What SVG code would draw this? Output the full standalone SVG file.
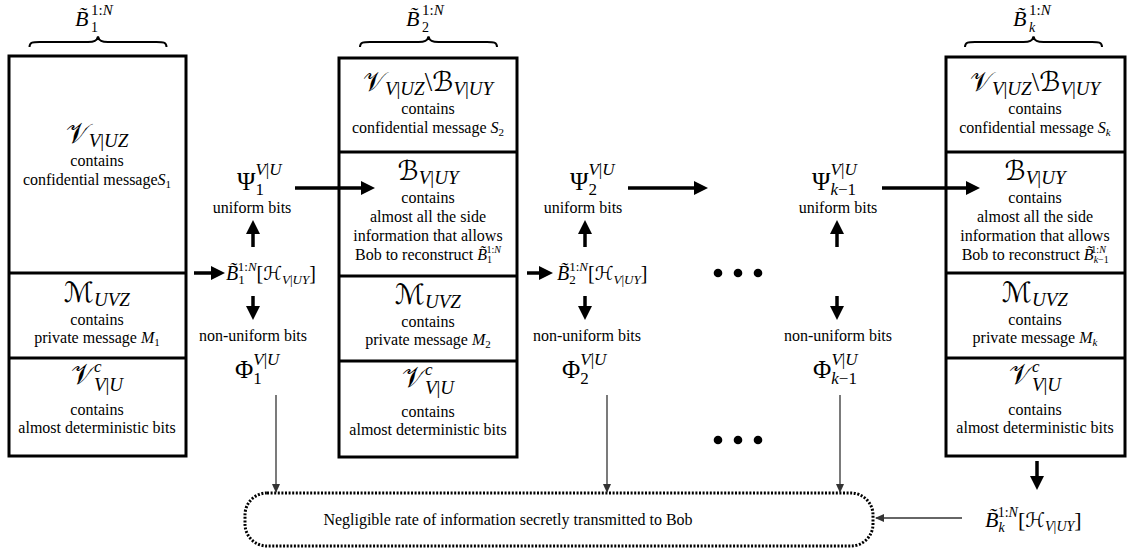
<svg xmlns="http://www.w3.org/2000/svg" width="1131" height="552" viewBox="0 0 1131 552">
<style>
  text { font-family: "Liberation Serif", "DejaVu Serif", serif; fill: #000; }
  .c { text-anchor: middle; }
  .s { font-size: 16px; }
  .it { font-style: italic; }
  .cal { font-family: "DejaVu Serif", "DejaVu Sans", "Noto Sans", serif; font-style: normal; }
  .box { fill: #fff; stroke: #000; stroke-width: 3; }
  .div { stroke: #000; stroke-width: 3; }
  .brace { fill: none; stroke: #000; stroke-width: 2; }
  .thick { stroke: #000; stroke-width: 3.5; marker-end: url(#hd); }
  .thin { stroke: #333; stroke-width: 1.3; marker-end: url(#ah); }
</style>
<defs>
  <marker id="hd" markerUnits="userSpaceOnUse" markerWidth="14" markerHeight="14" refX="8" refY="7" orient="auto">
    <path d="M0,0 L14,7 L0,14 z" fill="#000"/>
  </marker>
  <marker id="ah" markerUnits="userSpaceOnUse" markerWidth="9" markerHeight="8" refX="8" refY="4" orient="auto">
    <path d="M0,0 L9,4 L0,8 z" fill="#333"/>
  </marker>
</defs>

<!-- block 1 -->
<g id="block1">
  <path class="brace" d="M29.5,47 C29.5,42 33,42 39.5,42 L88,42 C94,42 97,41 98,36.5 C99,41 102,42 108,42 L156.5,42 C163,42 166.5,42 166.5,47"/>
  <text x="75" y="26" class="it" font-size="22">B̃<tspan x="91" y="32" font-size="14" font-style="normal">1</tspan><tspan x="91" y="15" font-size="15" font-style="normal">1:<tspan class="it">N</tspan></tspan></text>
  <rect class="box" x="9" y="56" width="177" height="400"/>
  <line class="div" x1="9" y1="273" x2="186" y2="273"/>
  <line class="div" x1="9" y1="358" x2="186" y2="358"/>
  <text x="97" y="143" class="c" font-size="28"><tspan class="cal">𝒱</tspan><tspan class="it" font-size="19" dy="4">V</tspan><tspan font-size="19">|</tspan><tspan class="it" font-size="19">UZ</tspan></text>
  <text x="97" y="166" class="c s">contains</text>
  <text x="97" y="185" class="c s">confidential message<tspan class="it">S</tspan><tspan font-size="11" dy="3">1</tspan></text>
  <text x="97" y="302" class="c" font-size="28"><tspan class="cal">ℳ</tspan><tspan class="it" font-size="19" dy="4">UVZ</tspan></text>
  <text x="97" y="325" class="c s">contains</text>
  <text x="97" y="343" class="c s">private message <tspan class="it">M</tspan><tspan font-size="11" dy="3">1</tspan></text>
  <text x="97" y="384" class="c" font-size="28"><tspan class="cal">𝒱</tspan><tspan class="it" font-size="17" dy="-12">c</tspan><tspan class="it" font-size="19" dx="-7.5" dy="19">V</tspan><tspan font-size="19">|</tspan><tspan class="it" font-size="19">U</tspan></text>
  <text x="97" y="415" class="c s">contains</text>
  <text x="97" y="433" class="c s">almost deterministic bits</text>
</g>

<!-- block 2 -->
<g id="block2">
  <path class="brace" d="M360,47 C360,42 363.5,42 370,42 L418.5,42 C424.5,42 427.5,41 428.5,36.5 C429.5,41 432.5,42 438.5,42 L487,42 C493.5,42 497,42 497,47"/>
  <text x="406" y="26" class="it" font-size="22">B̃<tspan x="422" y="32" font-size="14" font-style="normal">2</tspan><tspan x="422" y="15" font-size="15" font-style="normal">1:<tspan class="it">N</tspan></tspan></text>
  <rect class="box" x="339" y="58" width="178" height="399"/>
  <line class="div" x1="339" y1="152" x2="517" y2="152"/>
  <line class="div" x1="339" y1="276" x2="517" y2="276"/>
  <line class="div" x1="339" y1="361" x2="517" y2="361"/>
  <text x="428" y="91" class="c" font-size="27"><tspan class="cal">𝒱</tspan><tspan class="it" font-size="19" dy="4">V</tspan><tspan font-size="19">|</tspan><tspan class="it" font-size="19">UZ</tspan><tspan dy="-4">\</tspan><tspan class="cal">ℬ</tspan><tspan class="it" font-size="19" dy="4">V</tspan><tspan font-size="19">|</tspan><tspan class="it" font-size="19">UY</tspan></text>
  <text x="428" y="114" class="c s">contains</text>
  <text x="428" y="133" class="c s">confidential message <tspan class="it">S</tspan><tspan font-size="11" dy="3">2</tspan></text>
  <text x="428" y="180" class="c" font-size="27"><tspan class="cal">ℬ</tspan><tspan class="it" font-size="19" dy="4">V</tspan><tspan font-size="19">|</tspan><tspan class="it" font-size="19">UY</tspan></text>
  <text x="428" y="203" class="c s">contains</text>
  <text x="428" y="222" class="c s">almost all the side</text>
  <text x="428" y="241" class="c s">information that allows</text>
  <text x="428" y="260" class="c s">Bob to reconstruct <tspan class="it">B̃</tspan><tspan font-size="10" dy="3">1</tspan><tspan font-size="10" dx="-5" dy="-10">1:<tspan class="it">N</tspan></tspan></text>
  <text x="428" y="304" class="c" font-size="28"><tspan class="cal">ℳ</tspan><tspan class="it" font-size="19" dy="4">UVZ</tspan></text>
  <text x="428" y="327" class="c s">contains</text>
  <text x="428" y="345" class="c s">private message <tspan class="it">M</tspan><tspan font-size="11" dy="3">2</tspan></text>
  <text x="428" y="387" class="c" font-size="28"><tspan class="cal">𝒱</tspan><tspan class="it" font-size="17" dy="-12">c</tspan><tspan class="it" font-size="19" dx="-7.5" dy="19">V</tspan><tspan font-size="19">|</tspan><tspan class="it" font-size="19">U</tspan></text>
  <text x="428" y="417" class="c s">contains</text>
  <text x="428" y="435" class="c s">almost deterministic bits</text>
</g>

<!-- block k -->
<g id="blockk">
  <path class="brace" d="M965,47 C965,42 968.5,42 975,42 L1023.5,42 C1029.5,42 1032.5,41 1033.5,36.5 C1034.5,41 1037.5,42 1043.5,42 L1092,42 C1098.5,42 1102,42 1102,47"/>
  <text x="1013" y="26" class="it" font-size="22">B̃<tspan x="1029" y="32" font-size="14">k</tspan><tspan x="1029" y="15" font-size="15" font-style="normal">1:<tspan class="it">N</tspan></tspan></text>
  <rect class="box" x="946" y="57" width="179" height="399"/>
  <line class="div" x1="946" y1="152" x2="1125" y2="152"/>
  <line class="div" x1="946" y1="273" x2="1125" y2="273"/>
  <line class="div" x1="946" y1="358" x2="1125" y2="358"/>
  <text x="1035" y="91" class="c" font-size="27"><tspan class="cal">𝒱</tspan><tspan class="it" font-size="19" dy="4">V</tspan><tspan font-size="19">|</tspan><tspan class="it" font-size="19">UZ</tspan><tspan dy="-4">\</tspan><tspan class="cal">ℬ</tspan><tspan class="it" font-size="19" dy="4">V</tspan><tspan font-size="19">|</tspan><tspan class="it" font-size="19">UY</tspan></text>
  <text x="1035" y="114" class="c s">contains</text>
  <text x="1035" y="133" class="c s">confidential message <tspan class="it">S</tspan><tspan class="it" font-size="11" dy="3">k</tspan></text>
  <text x="1035" y="180" class="c" font-size="27"><tspan class="cal">ℬ</tspan><tspan class="it" font-size="19" dy="4">V</tspan><tspan font-size="19">|</tspan><tspan class="it" font-size="19">UY</tspan></text>
  <text x="1035" y="203" class="c s">contains</text>
  <text x="1035" y="222" class="c s">almost all the side</text>
  <text x="1035" y="241" class="c s">information that allows</text>
  <text x="1035" y="260" class="c s">Bob to reconstruct <tspan class="it">B̃</tspan><tspan font-size="10" dy="3"><tspan class="it">k</tspan>−1</tspan><tspan font-size="10" dx="-17" dy="-10">1:<tspan class="it">N</tspan></tspan></text>
  <text x="1035" y="302" class="c" font-size="28"><tspan class="cal">ℳ</tspan><tspan class="it" font-size="19" dy="4">UVZ</tspan></text>
  <text x="1035" y="325" class="c s">contains</text>
  <text x="1035" y="343" class="c s">private message <tspan class="it">M</tspan><tspan class="it" font-size="11" dy="3">k</tspan></text>
  <text x="1035" y="384" class="c" font-size="28"><tspan class="cal">𝒱</tspan><tspan class="it" font-size="17" dy="-12">c</tspan><tspan class="it" font-size="19" dx="-7.5" dy="19">V</tspan><tspan font-size="19">|</tspan><tspan class="it" font-size="19">U</tspan></text>
  <text x="1035" y="415" class="c s">contains</text>
  <text x="1035" y="433" class="c s">almost deterministic bits</text>
</g>

<!-- bit split after block 1 -->
<g id="split1">
  <text x="237" y="190" font-size="25">Ψ<tspan font-size="17" dy="5">1</tspan><tspan class="it" font-size="17" dx="-8.5" dy="-20">V</tspan><tspan font-size="17">|</tspan><tspan class="it" font-size="17">U</tspan></text>
  <text x="252" y="213" class="c s">uniform bits</text>
  <text x="226" y="280" class="it" font-size="20">B̃<tspan font-size="13" font-style="normal" dy="4">1</tspan><tspan font-size="13" font-style="normal" dx="-6.5" dy="-13">1:<tspan class="it">N</tspan></tspan><tspan font-style="normal" dy="9">[</tspan><tspan class="cal" font-size="19">ℋ</tspan><tspan font-size="13" dy="4">V</tspan><tspan font-size="13" font-style="normal">|</tspan><tspan font-size="13">UY</tspan><tspan font-style="normal" dy="-4">]</tspan></text>
  <text x="253" y="341" class="c s">non-uniform bits</text>
  <text x="235" y="378" font-size="25">Φ<tspan font-size="17" dy="6">1</tspan><tspan class="it" font-size="17" dx="-8.5" dy="-19">V</tspan><tspan font-size="17">|</tspan><tspan class="it" font-size="17">U</tspan></text>
</g>

<!-- bit split after block 2 -->
<g id="split2">
  <text x="570" y="190" font-size="25">Ψ<tspan font-size="17" dy="5">2</tspan><tspan class="it" font-size="17" dx="-8.5" dy="-20">V</tspan><tspan font-size="17">|</tspan><tspan class="it" font-size="17">U</tspan></text>
  <text x="583" y="213" class="c s">uniform bits</text>
  <text x="557" y="280" class="it" font-size="20">B̃<tspan font-size="13" font-style="normal" dy="4">2</tspan><tspan font-size="13" font-style="normal" dx="-6.5" dy="-13">1:<tspan class="it">N</tspan></tspan><tspan font-style="normal" dy="9">[</tspan><tspan class="cal" font-size="19">ℋ</tspan><tspan font-size="13" dy="4">V</tspan><tspan font-size="13" font-style="normal">|</tspan><tspan font-size="13">UY</tspan><tspan font-style="normal" dy="-4">]</tspan></text>
  <text x="587" y="341" class="c s">non-uniform bits</text>
  <text x="562" y="378" font-size="25">Φ<tspan font-size="17" dy="6">2</tspan><tspan class="it" font-size="17" dx="-8.5" dy="-19">V</tspan><tspan font-size="17">|</tspan><tspan class="it" font-size="17">U</tspan></text>
</g>

<!-- bit split before block k -->
<g id="splitk">
  <text x="812" y="190" font-size="25">Ψ<tspan font-size="17" dy="5"><tspan class="it">k</tspan>−1</tspan><tspan class="it" font-size="17" dx="-25.5" dy="-20">V</tspan><tspan font-size="17">|</tspan><tspan class="it" font-size="17">U</tspan></text>
  <text x="838" y="213" class="c s">uniform bits</text>
  <text x="838" y="341" class="c s">non-uniform bits</text>
  <text x="813" y="378" font-size="25">Φ<tspan font-size="17" dy="6"><tspan class="it">k</tspan>−1</tspan><tspan class="it" font-size="17" dx="-25.5" dy="-19">V</tspan><tspan font-size="17">|</tspan><tspan class="it" font-size="17">U</tspan></text>
</g>

<!-- ellipses -->
<g id="dots" fill="#000">
  <circle cx="718" cy="273" r="4.3"/><circle cx="738" cy="273" r="4.3"/><circle cx="758" cy="273" r="4.3"/>
  <circle cx="718" cy="440" r="4.3"/><circle cx="738" cy="440" r="4.3"/><circle cx="758" cy="440" r="4.3"/>
</g>

<!-- leakage sink -->
<g id="sink">
  <rect x="245" y="493" width="628" height="53" rx="22" ry="22" fill="none" stroke="#000" stroke-width="3" stroke-dasharray="2 1.6"/>
  <text x="508" y="525" class="c s">Negligible rate of information secretly transmitted to Bob</text>
</g>

<!-- last block residue -->
<g id="residuek">
  <text x="985" y="527" class="it" font-size="22">B̃<tspan font-size="14" dy="5">k</tspan><tspan font-size="14" font-style="normal" dx="-7" dy="-15">1:<tspan class="it">N</tspan></tspan><tspan font-style="normal" dy="10">[</tspan><tspan class="cal" font-size="20">ℋ</tspan><tspan font-size="14" dy="4">V</tspan><tspan font-size="14" font-style="normal">|</tspan><tspan font-size="14">UY</tspan><tspan font-style="normal" dy="-4">]</tspan></text>
</g>

<!-- connectors -->
<g id="connectors">
  <line class="thick" x1="295" y1="188" x2="369" y2="188"/>
  <line class="thick" x1="628" y1="188" x2="702" y2="188"/>
  <line class="thick" x1="882" y1="188" x2="974" y2="188"/>
  <line class="thick" x1="194" y1="273" x2="219" y2="273"/>
  <line class="thick" x1="527" y1="273" x2="547" y2="273"/>
  <line class="thick" x1="253" y1="247" x2="253" y2="226"/>
  <line class="thick" x1="585" y1="247" x2="585" y2="226"/>
  <line class="thick" x1="837" y1="247" x2="837" y2="226"/>
  <line class="thick" x1="253" y1="296" x2="253" y2="314"/>
  <line class="thick" x1="585" y1="296" x2="585" y2="314"/>
  <line class="thick" x1="837" y1="296" x2="837" y2="314"/>
  <line class="thick" x1="1037" y1="461" x2="1037" y2="484"/>
  <line class="thin" x1="276" y1="395" x2="276" y2="492"/>
  <line class="thin" x1="607" y1="395" x2="607" y2="492"/>
  <line class="thin" x1="840" y1="395" x2="840" y2="492"/>
  <line class="thin" x1="962" y1="518" x2="876" y2="518"/>
</g>
</svg>
